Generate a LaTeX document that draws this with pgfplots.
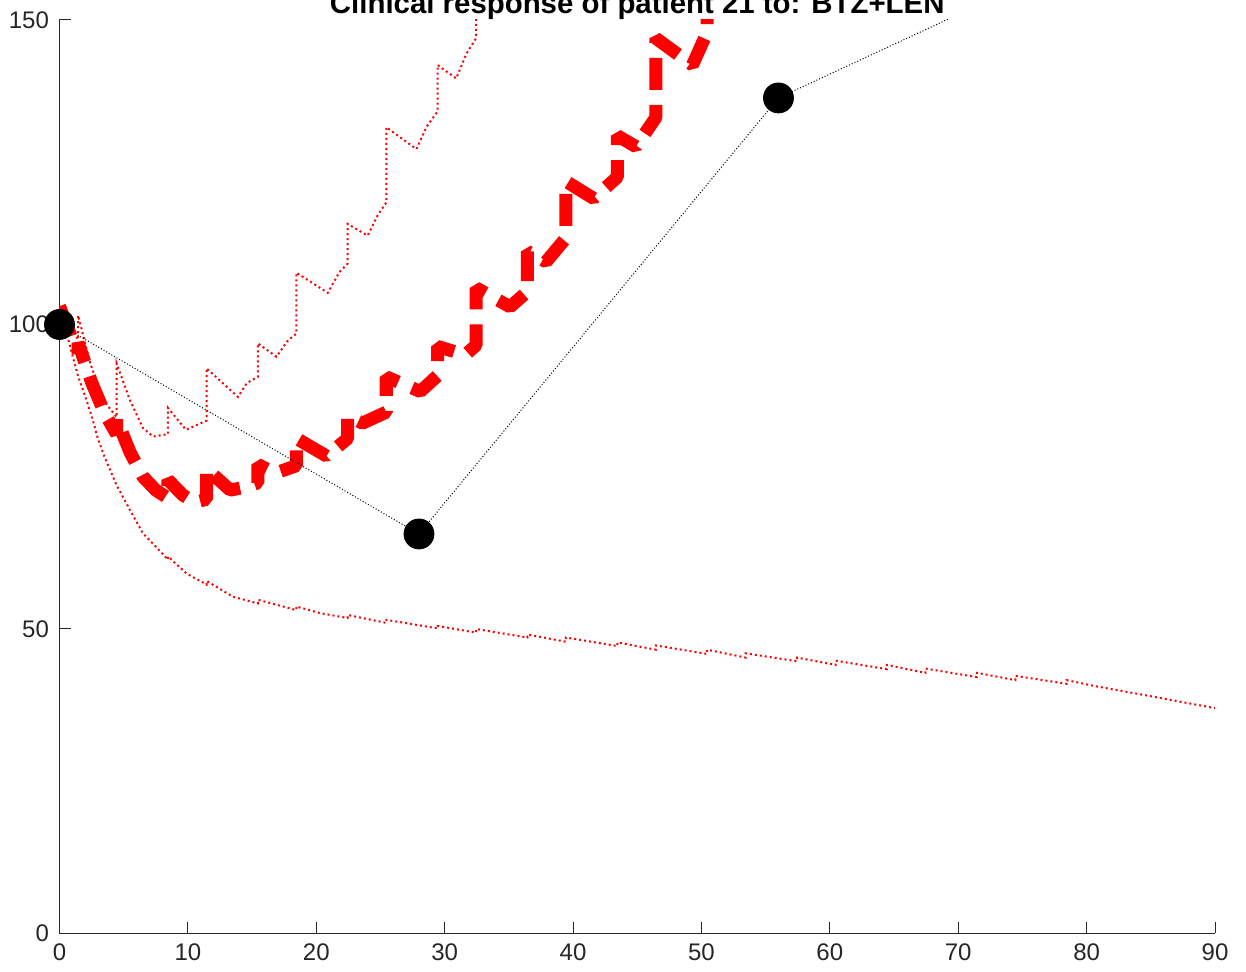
\documentclass[border=0pt]{standalone}
\usepackage{fontspec}
\setmainfont{Liberation Sans}
\usepackage{pgfplots}
\pgfplotsset{compat=1.18}
\definecolor{axgray}{gray}{0.15}
\begin{document}
\begin{tikzpicture}
\begin{axis}[
 scale only axis, width=577.75pt, height=456.75pt,
 xmin=0, xmax=90, ymin=0, ymax=150,
 axis x line*=bottom, axis y line*=left,
 axis line style={axgray, line width=0.5pt, -},
 xtick={0,10,...,90}, ytick={0,50,100,150},
 tick align=inside, major tick length=5.8pt,
 tick style={axgray, line width=0.5pt},
 ticklabel style={font=\fontsize{12}{14}\selectfont, text=axgray},
 /pgf/number format/assume math mode=true,
 yticklabel style={xshift=-1.75pt},
 xticklabel style={yshift=-1.75pt},
 title={Clinical response of patient 21 to: BTZ+LEN},
 title style={at={(0.5,1)}, anchor=base, yshift=-2.65pt, font=\fontsize{14.7}{16}\selectfont\bfseries},
 clip=true,
]
% lower dotted (red)
\addplot[red, line width=1pt, dash pattern=on 1pt off 1.5pt] coordinates {
(0,103) (0.5,99) (1,95) (1.45,91.5) (2,88.2) (2.5,85) (3,81.2) (3.5,78.3) (4.45,73.6) (5.5,69.5) (6.5,65.7) (7.6,63.3) (8.45,61.4) (8.45,61.9) (9.9,59.1) (11.45,57.3) (11.45,57.9) (13.5,55.3) (15.45,54.2) (15.45,54.8) (18.45,53.1) (18.45,53.7) (20.3,52.6) (22.45,51.8) (22.45,52.3) (25.45,51.0) (25.45,51.5) (29.45,50.1) (29.45,50.5) (32.45,49.4) (32.45,50.0) (36.45,48.6) (36.45,49.1) (39.45,47.9) (39.45,48.6) (43.45,47.2) (43.45,47.8) (46.45,46.6) (46.45,47.3) (50.45,45.9) (50.45,46.6) (53.45,45.3) (53.45,46.0) (57.45,44.7) (57.45,45.3) (60.45,44.1) (60.45,44.8) (64.45,43.4) (64.45,44.1) (67.45,42.8) (67.45,43.5) (71.45,42.1) (71.45,42.8) (74.45,41.6) (74.45,42.3) (78.45,41.0) (78.45,41.6) (80.7,40.6) (84.9,39.0) (90,37.0)
};
% upper dotted (red)
\addplot[red, line width=1pt, dash pattern=on 1pt off 1.5pt] coordinates {
(0,103) (1.45,97.5) (1.45,101.5) (2.4,93.6) (3.4,87.6) (4.45,84.8) (4.45,93.6) (5.5,87.5) (6.5,83) (7.3,81.6) (8.45,82) (8.45,86.3) (9.85,82.7) (10.8,83.6) (11.45,84.2) (11.45,92.8) (13.9,88.1) (14.6,90.4) (15.45,91.4) (15.45,96.9) (16.9,94.7) (17.8,97.4) (18.45,98.5) (18.45,108.5) (20.9,105.2) (21.8,108.6) (22.45,110) (22.45,116.5) (24.0,114.6) (24.8,118) (25.45,120) (25.45,132.4) (27.8,128.8) (28.6,132.5) (29.45,135) (29.45,142.6) (30.9,140.4) (31.7,144.5) (32.45,147) (32.45,158)
};
% thick dashed (red)
\addplot[red, line width=6.5pt, dash pattern=on 16pt off 7.5pt, line join=bevel] coordinates {
(0,103) (1,97.5) (1.45,95.5) (1.45,97) (2.5,90.5) (3.5,85.5) (4.45,82) (4.45,84.5) (5.5,79) (6.5,75) (7.5,72.8) (8.45,71.5) (8.45,74.5) (9.6,72) (10.5,70.8) (11.45,71.3) (11.45,76.3) (13.3,72.8) (14.5,73.3) (15.45,74) (15.45,77) (16.8,75.6) (18.45,76.8) (18.45,81.3) (20.8,78.4) (22.45,81.3) (22.45,85) (23.6,83.8) (25.45,85.6) (25.45,91.4) (28.1,89) (29.45,91.6) (29.45,96.4) (31.6,95) (32.45,96.6) (32.45,106) (35.1,102.9) (36.45,105.4) (36.45,112) (37.9,110.3) (39.45,114.2) (39.45,123.5) (41.6,120.7) (43.45,124.2) (43.45,131) (44.9,129.2) (46.45,134) (46.45,147) (49.3,142.6) (50.45,148) (50.45,162)
};
% clinical measurements (black)
\addplot[black, line width=0.5pt, dash pattern=on 0.5pt off 1pt] coordinates {
(0,100) (28,65.6) (56,137.2) (84,164.6)
};
\addplot[only marks, mark=*, mark size=7.5pt, black, fill=black] coordinates {
(0,100) (28,65.6) (56,137.2)
};
\end{axis}
\pgfresetboundingbox
\path[use as bounding box] (-29.75pt,-19.25pt) rectangle (593.25pt,466.75pt);
\end{tikzpicture}
\end{document}
